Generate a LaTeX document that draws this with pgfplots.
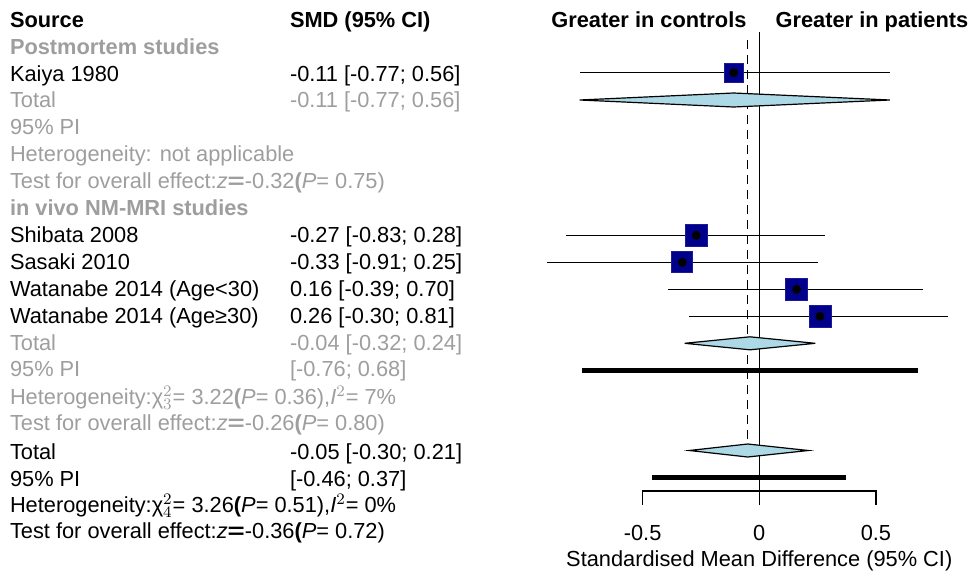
\documentclass[border=0pt]{standalone}
\usepackage{fontspec}
\setmainfont{Liberation Sans}
\usepackage{graphicx}
\usepackage{pgfplots}
\usepackage{pgfplotstable}
\pgfplotsset{compat=1.18}

\definecolor{txtgray}{HTML}{9E9E9E}
\definecolor{sqfill}{HTML}{00008A}
\definecolor{sqdraw}{HTML}{1A1A9A}
\definecolor{dmfill}{HTML}{ADD8E6}

% y = row position (pixels from the top), s = half side of the square (pt)
\pgfplotstableread{
y      est    lo     hi    s
72.7   -0.11  -0.77  0.56  4.7
235.3  -0.27  -0.83  0.28  5.6
262.3  -0.33  -0.91  0.25  5.25
289.3   0.16  -0.39  0.70  5.6
316.3   0.26  -0.30  0.81  5.5
}\studies

\newcommand\zeq{\textit{z}\scalebox{1.35}[1]{\textbf{=}}}
\newcommand\chisq[1]{χ$^{2}_{#1}$}

\begin{document}
\begin{tikzpicture}[t/.style={inner sep=0pt, outer sep=0pt, font=\fontsize{10.9}{12}\selectfont}]
\begin{axis}[
    scale only axis, width=487.5pt, height=287pt,
    xmin=-3.2546, xmax=0.9246, ymin=0, ymax=574, y dir=reverse,
    hide axis, clip=false,
]
\path (axis cs:-3.2546,0) rectangle (axis cs:0.9246,574);

% reference lines
\addplot[black, line width=0.65pt] coordinates {(0,32) (0,505)};
\addplot[black, line width=0.6pt, dash pattern=on 4.5pt off 3pt] coordinates {(-0.05,40) (-0.05,444)};

% x axis
\addplot[black, line width=0.6pt] coordinates {(-0.5,505) (-0.5,491) (0.5,491) (0.5,505)};

% study squares, CI lines and centre ticks
\addplot[scatter, only marks, mark=square*,
    scatter/use mapped color={draw=sqdraw, fill=sqfill},
    visualization depends on={\thisrow{s} \as \sq},
    scatter/@pre marker code/.append style={/tikz/mark size=\sq}]
    table[x=est, y=y] {\studies};
\addplot[only marks, mark=none,
    error bars/.cd, x dir=both, x explicit, error mark=none,
    error bar style={black, line width=0.55pt}]
    table[x=est, y=y,
      x error minus expr=\thisrow{est}-\thisrow{lo},
      x error plus expr=\thisrow{hi}-\thisrow{est}] {\studies};
\addplot[only marks, mark=|, mark size=2.3pt, mark options={black, line width=0.45pt}]
    table[x=est, y=y] {\studies};

% pooled diamonds
\addplot[fill=dmfill, draw=black, line width=0.6pt] coordinates
    {(-0.77,100) (-0.11,93) (0.56,100) (-0.11,107)} -- cycle;
\addplot[fill=dmfill, draw=black, line width=0.6pt] coordinates
    {(-0.32,343.3) (-0.04,336.8) (0.24,343.3) (-0.04,349.8)} -- cycle;
\addplot[fill=dmfill, draw=black, line width=0.6pt] coordinates
    {(-0.30,450.5) (-0.05,444) (0.21,450.5) (-0.05,457)} -- cycle;

% prediction intervals
\addplot[black, line width=2.65pt] coordinates {(-0.76,370.3) (0.68,370.3)};
\addplot[black, line width=2.65pt] coordinates {(-0.46,477.7) (0.37,477.7)};

% header
\node[t, anchor=base west] at (axis cs:-3.2117,27) {\textbf{Source}};
\node[t, anchor=base west] at (axis cs:-2.0115,27) {\textbf{SMD (95\% CI)}};
\node[t, anchor=base] at (axis cs:-0.473,27) {\textbf{Greater in controls}};
\node[t, anchor=base] at (axis cs:0.4830,27) {\textbf{Greater in patients}};

% postmortem
\node[t, anchor=base west, text=txtgray] at (axis cs:-3.2117,54.3) {\textbf{Postmortem studies}};
\node[t, anchor=base west] at (axis cs:-3.2117,81) {Kaiya 1980};
\node[t, anchor=base west] at (axis cs:-2.0115,81) {-0.11 [-0.77; 0.56]};
\node[t, anchor=base west, text=txtgray] at (axis cs:-3.2117,107.7) {Total};
\node[t, anchor=base west, text=txtgray] at (axis cs:-2.0115,107.7) {-0.11 [-0.77; 0.56]};
\node[t, anchor=base west, text=txtgray] at (axis cs:-3.2117,134.5) {95\% PI};
\node[t, anchor=base west, text=txtgray] at (axis cs:-3.2117,161.3) {Heterogeneity: not applicable};
\node[t, anchor=base west, text=txtgray] at (axis cs:-3.2117,188) {Test for overall effect:\zeq-0.32\textbf{(}\textit{P}= 0.75)};

% in vivo
\node[t, anchor=base west, text=txtgray] at (axis cs:-3.2117,215.7) {\textbf{in vivo NM-MRI studies}};
\node[t, anchor=base west] at (axis cs:-3.2117,242.7) {Shibata 2008};
\node[t, anchor=base west] at (axis cs:-2.0115,242.7) {-0.27 [-0.83; 0.28]};
\node[t, anchor=base west] at (axis cs:-3.2117,269.6) {Sasaki 2010};
\node[t, anchor=base west] at (axis cs:-2.0115,269.6) {-0.33 [-0.91; 0.25]};
\node[t, anchor=base west] at (axis cs:-3.2117,296.5) {Watanabe 2014 (Age<30)};
\node[t, anchor=base west] at (axis cs:-2.0115,296.5) {0.16 [-0.39; 0.70]};
\node[t, anchor=base west] at (axis cs:-3.2117,323.3) {Watanabe 2014 (Age≥30)};
\node[t, anchor=base west] at (axis cs:-2.0115,323.3) {0.26 [-0.30; 0.81]};
\node[t, anchor=base west, text=txtgray] at (axis cs:-3.2117,350) {Total};
\node[t, anchor=base west, text=txtgray] at (axis cs:-2.0115,350) {-0.04 [-0.32; 0.24]};
\node[t, anchor=base west, text=txtgray] at (axis cs:-3.2117,376.7) {95\% PI};
\node[t, anchor=base west, text=txtgray] at (axis cs:-2.0115,376.7) {[-0.76; 0.68]};
\node[t, anchor=base west, text=txtgray] at (axis cs:-3.2117,404) {Heterogeneity:\chisq{3}= 3.22\textbf{(}\textit{P}= 0.36),\textit{I}$^{2}$= 7\%};
\node[t, anchor=base west, text=txtgray] at (axis cs:-3.2117,430.7) {Test for overall effect:\zeq-0.26\textbf{(}\textit{P}= 0.80)};

% overall
\node[t, anchor=base west] at (axis cs:-3.2117,459.3) {Total};
\node[t, anchor=base west] at (axis cs:-2.0115,459.3) {-0.05 [-0.30; 0.21]};
\node[t, anchor=base west] at (axis cs:-3.2117,486) {95\% PI};
\node[t, anchor=base west] at (axis cs:-2.0115,486) {[-0.46; 0.37]};
\node[t, anchor=base west] at (axis cs:-3.2117,512) {Heterogeneity:\chisq{4}= 3.26\textbf{(}\textit{P}= 0.51),\textit{I}$^{2}$= 0\%};
\node[t, anchor=base west] at (axis cs:-3.2117,538.5) {Test for overall effect:\zeq-0.36\textbf{(}\textit{P}= 0.72)};

% tick labels and axis title
\node[t, anchor=base] at (axis cs:-0.5,540) {-0.5};
\node[t, anchor=base] at (axis cs:0,540) {0};
\node[t, anchor=base] at (axis cs:0.5,540) {0.5};
\node[t, anchor=base] at (axis cs:0,566) {Standardised Mean Difference (95\% CI)};
\end{axis}
\end{tikzpicture}
\end{document}
